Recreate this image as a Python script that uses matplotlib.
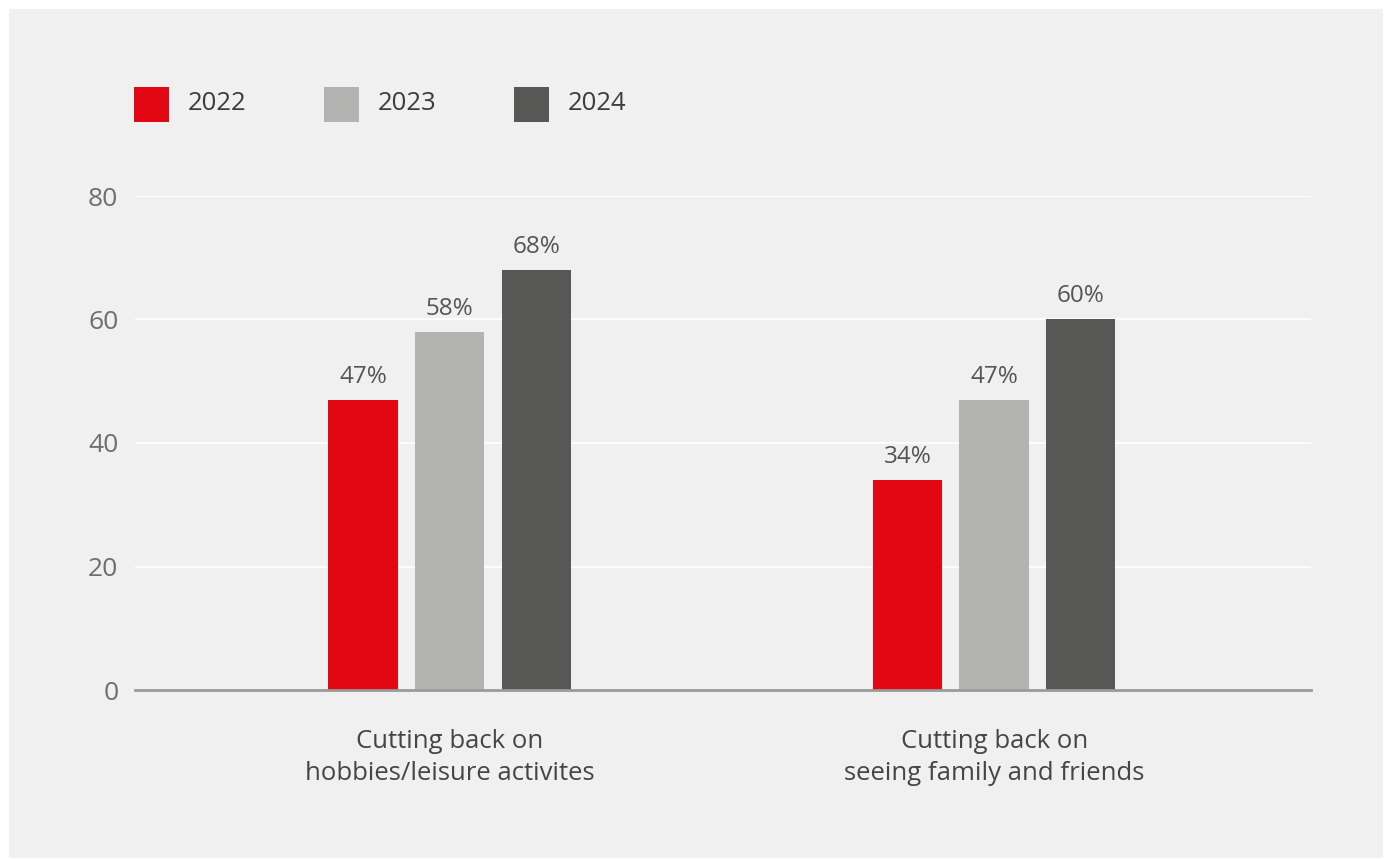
import matplotlib
matplotlib.use("Agg")
import matplotlib.pyplot as plt
from matplotlib.patches import Rectangle
import numpy as np

categories = ["Cutting back on\nhobbies/leisure activites", "Cutting back on\nseeing family and friends"]
years = ["2022", "2023", "2024"]
values_2022 = [47, 34]
values_2023 = [58, 47]
values_2024 = [68, 60]
yticks = [0, 20, 40, 60, 80]

colors = ["#e30613", "#b3b3b1", "#575755"]
BG = "#f0f0f0"
W, H = 1391, 859

plt.rcParams['font.family'] = ['Open Sans', 'DejaVu Sans']

fig = plt.figure(figsize=(W / 100, H / 100), dpi=100)
fig.patch.set_facecolor("white")
fig.patches.append(Rectangle((9 / W, 1 - 858 / H), (1383 - 9) / W, (858 - 9) / H,
                             transform=fig.transFigure, facecolor=BG, edgecolor="none", zorder=-5))

ax_l, ax_r, ax_t, ax_b = 135, 1311, 196, 690
ax = fig.add_axes([ax_l / W, 1 - ax_b / H, (ax_r - ax_l) / W, (ax_b - ax_t) / H])
ax.set_facecolor("none")
ax.set_zorder(2)

x = np.arange(len(categories))
width = 0.1276
offset = 0.159
series = [values_2022, values_2023, values_2024]
for i, (vals, col) in enumerate(zip(series, colors)):
    bars = ax.bar(x + (i - 1) * offset, vals, width, color=col, zorder=3)
    for b, v in zip(bars, vals):
        ax.text(b.get_x() + b.get_width() / 2, v + 1.8, f"{v}%", ha="center", va="bottom",
                fontsize=17.5, color="#555555", zorder=4)

ax.set_xlim(-0.578, 1.582)
ax.set_ylim(0, 80)
ax.set_yticks(yticks)
ax.set_yticklabels([str(t) for t in yticks], fontsize=19, color="#6e6e6e")
ax.tick_params(axis="y", length=0, pad=12)
ax.set_xticks(x)
ax.set_xticklabels(categories, fontsize=18.5, color="#454545", linespacing=1.35)
ax.tick_params(axis="x", length=0, pad=28)
ax.yaxis.grid(True, color="white", linewidth=1.2, zorder=1)
ax.set_axisbelow(True)
for s in ["top", "right", "left"]:
    ax.spines[s].set_visible(False)
ax.spines["bottom"].set_color("#9a9a9a")
ax.spines["bottom"].set_linewidth(2)
ax.spines["bottom"].set_zorder(5)

# legend
leg_sq = [(134, "2022"), (324, "2023"), (514, "2024")]
for (lx, lab), col in zip(leg_sq, colors):
    fig.patches.append(Rectangle((lx / W, 1 - 122 / H), 35 / W, 35 / H,
                                 transform=fig.transFigure, facecolor=col, edgecolor="none", zorder=1))
    fig.text((lx + 54) / W, 1 - 104 / H, lab, fontsize=18.5, color="#3c3c3c", va="center", ha="left")

fig.savefig("out.png", dpi=100, facecolor=fig.get_facecolor())
